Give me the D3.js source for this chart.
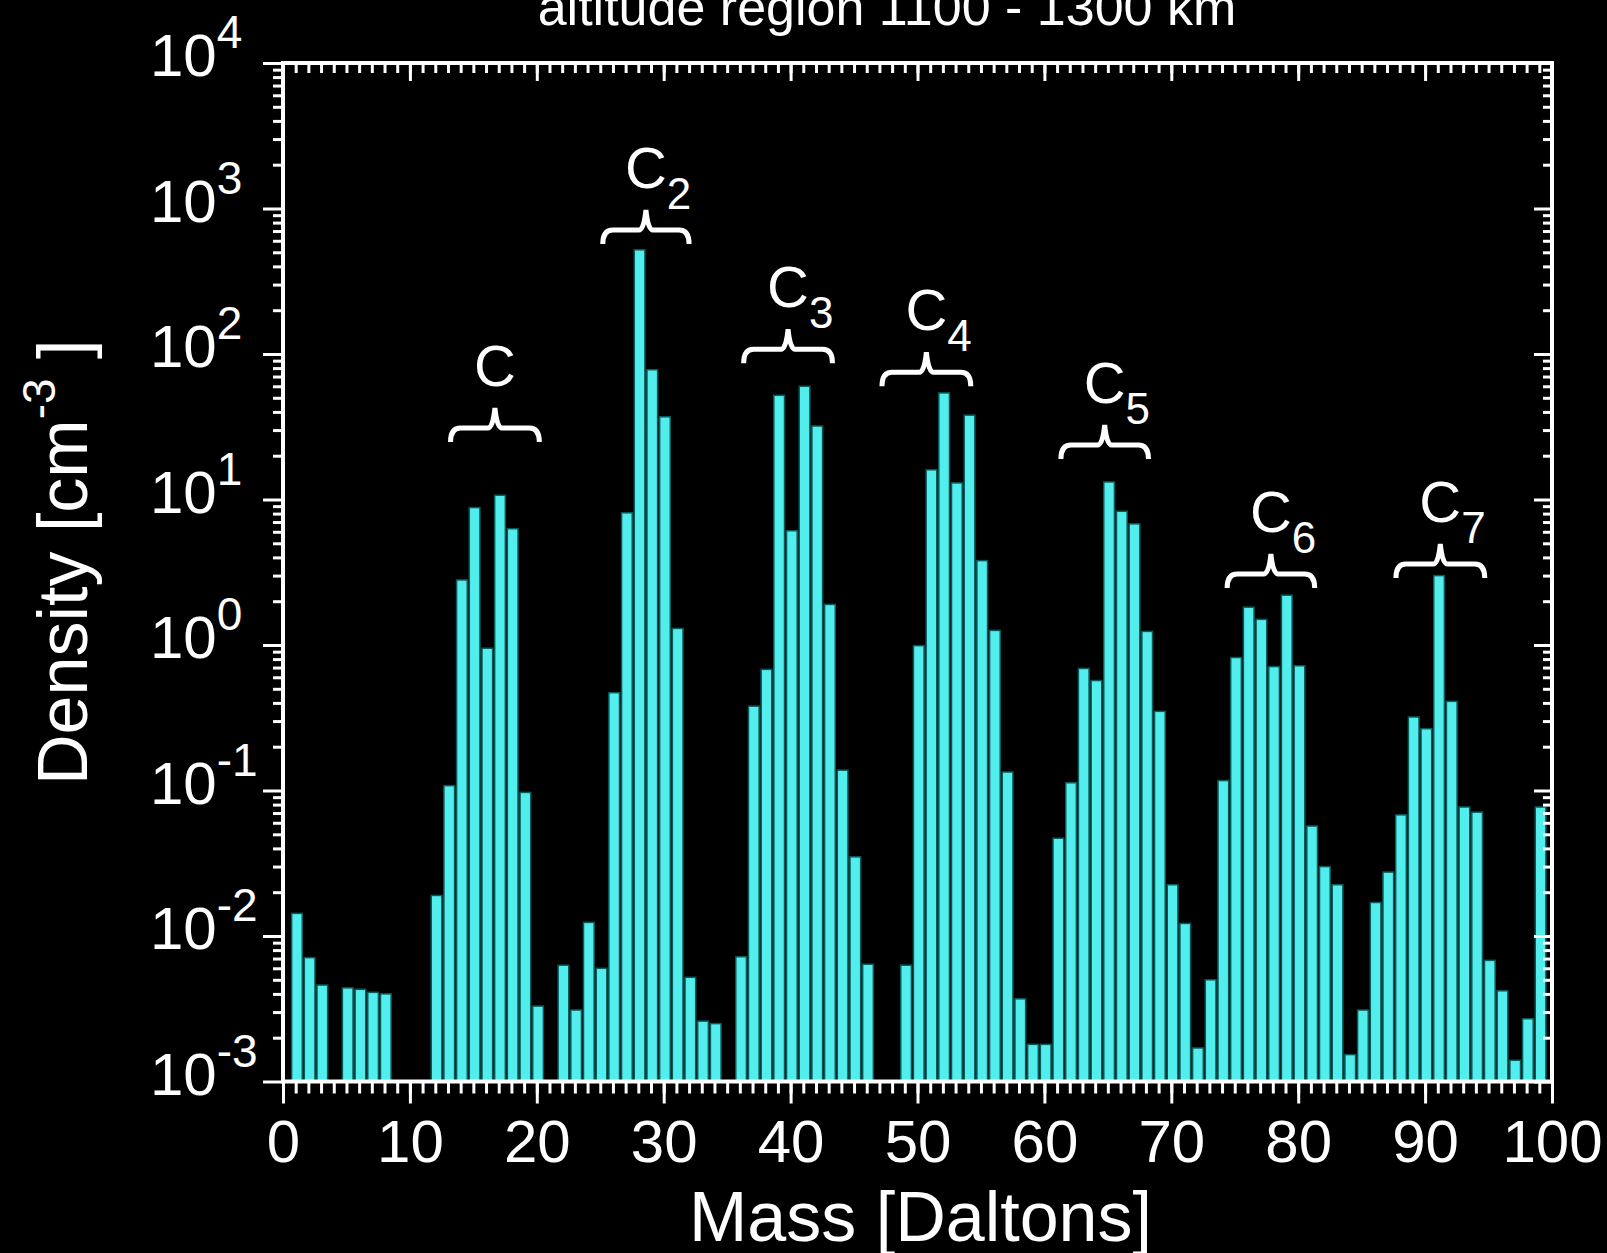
<!DOCTYPE html>
<html>
<head>
<meta charset="utf-8">
<script src="https://cdn.jsdelivr.net/npm/d3@7"></script>
<style>
  body { margin: 0; background: #000; }
  svg { display: block; }
  text { font-family: "Liberation Sans", Arial, sans-serif; fill: #fff; }
</style>
</head>
<body>
<div id="container"></div>
<script>
/* CONSTANTS AND GLOBALS */
const width = 1607,
  height = 1253,
  margin = { top: 63, bottom: 171.5, left: 283, right: 55 };

const barColor = "#52eeee",
  barEdge = "#0b5a5a";

/* DATA */
// mass in Daltons, density in cm^-3 ; masses with no bar are simply left out
const masses = [1, 2, 3, 5, 6, 7, 8,
  12, 13, 14, 15, 16, 17, 18, 19, 20,
  22, 23, 24, 25, 26, 27, 28, 29, 30, 31, 32, 33, 34,
  36, 37, 38, 39, 40, 41, 42, 43, 44, 45, 46,
  49, 50, 51, 52, 53, 54, 55, 56, 57, 58, 59, 60,
  61, 62, 63, 64, 65, 66, 67, 68, 69, 70, 71, 72, 73,
  74, 75, 76, 77, 78, 79, 80, 81, 82, 83, 84, 85,
  86, 87, 88, 89, 90, 91, 92, 93, 94, 95, 96, 97, 98, 99];

const densities = [0.0143, 0.0071, 0.0046, 0.0044, 0.0043, 0.0041, 0.0040,
  0.019, 0.108, 2.8, 8.8, 0.95, 10.7, 6.3, 0.097, 0.0033,
  0.0063, 0.0031, 0.0124, 0.0060, 0.47, 8.1, 520, 78, 37, 1.3, 0.0052, 0.0026, 0.0025,
  0.0072, 0.38, 0.68, 52, 6.1, 60, 32, 1.9, 0.138, 0.035, 0.0064,
  0.0063, 0.99, 16, 54, 13, 38, 3.8, 1.26, 0.134, 0.0037, 0.0018, 0.0018,
  0.047, 0.113, 0.69, 0.57, 13.2, 8.3, 6.8, 1.24, 0.35, 0.0225, 0.0122, 0.0017, 0.0050,
  0.117, 0.82, 1.82, 1.50, 0.71, 2.2, 0.72, 0.057, 0.030, 0.0225, 0.00153, 0.0031,
  0.017, 0.0275, 0.068, 0.32, 0.266, 3.0, 0.41, 0.077, 0.071, 0.0068, 0.0042, 0.0014, 0.0027, 0.077];

// carbon cluster brackets
const groupSubscripts = ["", "2", "3", "4", "5", "6", "7"];
const groupStart = [13.2, 25.2, 36.3, 47.2, 61.3, 74.4, 87.7];
const groupEnd = [20.2, 32.0, 43.3, 54.2, 68.2, 81.3, 94.7];
const groupLevel = [31, 711, 108, 75, 23.7, 3.08, 3.6];

// axis ticks
const xMajorTicks = [0, 10, 20, 30, 40, 50, 60, 70, 80, 90, 100];
const yExponents = [-3, -2, -1, 0, 1, 2, 3, 4];

const titleText = "altitude region 1100 - 1300 km";

/* SCALES */
const xScale = d3.scaleLinear()
  .domain([0, 100])
  .range([margin.left, width - margin.right]);

const yScale = d3.scaleLog()
  .domain([1e-3, 1e4])
  .range([height - margin.bottom, margin.top]);

const data = masses.map((m, i) => ({ mass: m, density: densities[i] }));
const xMinorTicks = d3.range(0, 101);
const yMajorTicks = yExponents.map(e => Math.pow(10, e));
const yMinorTicks = [];
yExponents.slice(0, -1).forEach(e => {
  for (let k = 2; k <= 9; k++) yMinorTicks.push(k * Math.pow(10, e));
});

/* SVG */
const svg = d3.select("#container")
  .append("svg")
  .attr("width", width)
  .attr("height", height);

svg.append("rect")
  .attr("width", width)
  .attr("height", height)
  .attr("fill", "#000");

// bars
const unit = xScale(1) - xScale(0);
svg.append("g")
  .selectAll("rect")
  .data(data)
  .join("rect")
  .attr("x", d => xScale(d.mass + 0.1) - unit * 0.42)
  .attr("width", unit * 0.84)
  .attr("y", d => yScale(d.density))
  .attr("height", d => yScale(1e-3) - yScale(d.density))
  .attr("fill", barColor)
  .attr("stroke", barEdge)
  .attr("stroke-width", 1.5);

// axes helper
function styleAxis(g) {
  g.select(".domain").remove();
  g.selectAll(".tick line").attr("stroke", "#fff").attr("stroke-width", 3);
}

const y0 = yScale.range()[0], y1 = yScale.range()[1];
const x0 = xScale.range()[0], x1 = xScale.range()[1];

// bottom
svg.append("g")
  .attr("transform", `translate(0,${y0})`)
  .call(d3.axisBottom(xScale).tickValues(xMinorTicks).tickSize(12).tickFormat(""))
  .call(styleAxis);

svg.append("g")
  .attr("transform", `translate(0,${y0})`)
  .call(d3.axisBottom(xScale).tickValues(xMajorTicks).tickSize(22).tickFormat(d3.format("d")))
  .call(styleAxis)
  .call(g => g.selectAll(".tick text")
    .attr("y", 80)
    .attr("dy", 0)
    .attr("fill", "#fff")
    .style("font-size", "60px")
    .style("font-family", "'Liberation Sans', Arial, sans-serif"));

// top (inward)
svg.append("g")
  .attr("transform", `translate(0,${y1})`)
  .call(d3.axisTop(xScale).tickValues(xMinorTicks).tickSizeInner(-10).tickSizeOuter(0).tickFormat(""))
  .call(styleAxis);

svg.append("g")
  .attr("transform", `translate(0,${y1})`)
  .call(d3.axisTop(xScale).tickValues(xMajorTicks).tickSizeInner(-18).tickSizeOuter(0).tickFormat(""))
  .call(styleAxis);

// left
svg.append("g")
  .attr("transform", `translate(${x0},0)`)
  .call(d3.axisLeft(yScale).tickValues(yMinorTicks).tickSize(10).tickFormat(""))
  .call(styleAxis);

svg.append("g")
  .attr("transform", `translate(${x0},0)`)
  .call(d3.axisLeft(yScale).tickValues(yMajorTicks).tickSize(20).tickFormat(""))
  .call(styleAxis);

// right (inward)
svg.append("g")
  .attr("transform", `translate(${x1},0)`)
  .call(d3.axisRight(yScale).tickValues(yMinorTicks).tickSizeInner(-9).tickSizeOuter(0).tickFormat(""))
  .call(styleAxis);

svg.append("g")
  .attr("transform", `translate(${x1},0)`)
  .call(d3.axisRight(yScale).tickValues(yMajorTicks).tickSizeInner(-18).tickSizeOuter(0).tickFormat(""))
  .call(styleAxis);

// frame
svg.append("rect")
  .attr("x", x0)
  .attr("y", y1)
  .attr("width", x1 - x0)
  .attr("height", y0 - y1)
  .attr("fill", "none")
  .attr("stroke", "#fff")
  .attr("stroke-width", 4);

// y tick labels 10^n
const yLab = svg.append("g")
  .selectAll("text")
  .data(yExponents)
  .join("text")
  .attr("x", 150)
  .attr("y", e => yScale(Math.pow(10, e)) + 13)
  .style("font-size", "60px");
yLab.append("tspan").text("10");
yLab.append("tspan")
  .attr("dy", -28)
  .style("font-size", "46px")
  .text(e => String(e));

// axis titles
svg.append("text")
  .attr("x", (x0 + x1) / 2 + 3)
  .attr("y", 1241)
  .attr("text-anchor", "middle")
  .style("font-size", "70px")
  .text("Mass [Daltons]");

const yTitle = svg.append("text")
  .attr("transform", `translate(87,${(y0 + y1) / 2 - 10}) rotate(-90)`)
  .attr("text-anchor", "middle")
  .style("font-size", "70px");
yTitle.append("tspan").text("Density [cm");
yTitle.append("tspan").attr("dy", -32).style("font-size", "46px").text("-3");
yTitle.append("tspan").attr("dy", 32).text(" ]");

svg.append("text")
  .attr("x", 887)
  .attr("y", 25)
  .attr("text-anchor", "middle")
  .style("font-size", "52px")
  .text(titleText);

// cluster brackets
const groups = groupSubscripts.map((s, i) => ({
  sub: s, start: groupStart[i], end: groupEnd[i], level: groupLevel[i]
}));

function bracePath(d) {
  const a = xScale(d.start), b = xScale(d.end), c = (a + b) / 2, y = yScale(d.level);
  return `M${a},${y + 14} Q${a},${y} ${a + 10},${y} L${c - 7},${y} Q${c - 2},${y} ${c},${y - 20}` +
    ` Q${c + 2},${y} ${c + 7},${y} L${b - 10},${y} Q${b},${y} ${b},${y + 14}`;
}

const ann = svg.append("g").selectAll("g").data(groups).join("g");
ann.append("path")
  .attr("d", bracePath)
  .attr("fill", "none")
  .attr("stroke", "#fff")
  .attr("stroke-width", 5);

const annText = ann.append("text")
  .attr("x", d => (xScale(d.start) + xScale(d.end)) / 2 - 21)
  .attr("y", d => yScale(d.level) - 42)
  .style("font-size", "58px");
annText.append("tspan").text("C");
annText.append("tspan")
  .attr("dy", 21)
  .style("font-size", "44px")
  .text(d => d.sub);
</script>
</body>
</html>
